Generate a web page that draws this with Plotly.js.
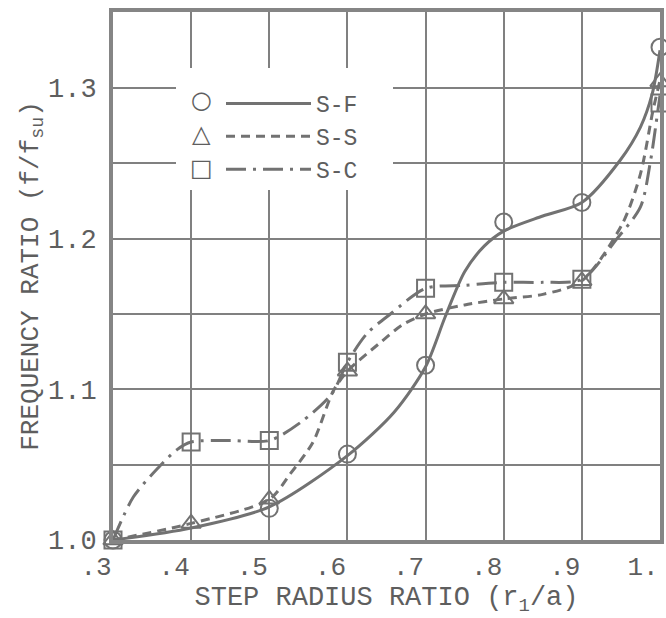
<!DOCTYPE html>
<html>
<head>
<meta charset="utf-8">
<script src="https://cdn.plot.ly/plotly-3.0.1.min.js"></script>
<style>html,body{margin:0;padding:0;background:#fff;}#chart{width:666px;height:618px;}</style>
</head>
<body>
<div id="chart"></div>
<script>
// ---- data ----
const seriesNames = ["S-F", "S-S", "S-C"];

// marker positions
const sfMarkX = [0.3, 0.5, 0.6, 0.7, 0.8, 0.9, 1.0];
const sfMarkY = [1.0, 1.021, 1.057, 1.116, 1.211, 1.224, 1.327];
const ssMarkX = [0.3, 0.4, 0.5, 0.6, 0.7, 0.8, 0.9, 1.0];
const ssMarkY = [1.0, 1.011, 1.027, 1.112, 1.150, 1.160, 1.172, 1.304];
const scMarkX = [0.3, 0.4, 0.5, 0.6, 0.7, 0.8, 0.9, 1.0];
const scMarkY = [1.0, 1.065, 1.066, 1.118, 1.167, 1.171, 1.173, 1.290];

// curves as traced on the picture
const sfCurveX = [0.3, 0.4, 0.5, 0.6, 0.66, 0.7, 0.725, 0.75, 0.775, 0.8, 0.85, 0.9, 0.949, 0.975, 0.99, 1.0];
const sfCurveY = [1.0, 1.008, 1.022, 1.056, 1.085, 1.115, 1.148, 1.178, 1.195, 1.205, 1.215, 1.224, 1.252, 1.274, 1.296, 1.325];
const ssCurveX = [0.3, 0.4, 0.5, 0.527, 0.556, 0.582, 0.6, 0.642, 0.671, 0.7, 0.75, 0.8, 0.85, 0.9, 0.952, 0.975, 0.991, 1.0];
const ssCurveY = [1.0, 1.011, 1.027, 1.044, 1.065, 1.099, 1.112, 1.131, 1.143, 1.150, 1.156, 1.160, 1.163, 1.172, 1.210, 1.243, 1.285, 1.305];
const scCurveX = [0.3, 0.326, 0.358, 0.382, 0.4, 0.45, 0.5, 0.54, 0.58, 0.6, 0.625, 0.655, 0.7, 0.75, 0.8, 0.85, 0.9, 0.945, 0.975, 0.988, 0.997, 1.0];
const scCurveY = [1.0, 1.0285, 1.048, 1.06, 1.065, 1.066, 1.066, 1.078, 1.097, 1.118, 1.137, 1.15, 1.167, 1.169, 1.171, 1.171, 1.173, 1.200, 1.221, 1.252, 1.284, 1.295];

const xTickVals = [0.3, 0.4, 0.5, 0.6, 0.7, 0.8, 0.9, 1.0];
const xTickText = [".3", ".4", ".5", ".6", ".7", ".8", ".9", "1."];
const yTickVals = [1.0, 1.1, 1.2, 1.3];
const yTickText = ["1.0", "1.1", "1.2", "1.3"];
const yMinorVals = [1.05, 1.15, 1.25];
const legendSymbols = ["○", "△", "□"];

// ---- styling ----
const ink = "#727272";
const txt = "#5e5e5e";
const gridc = "#808080";
const mono = "Liberation Mono, Courier New, monospace";

function curve(x, y, name, dash) {
  return {x: x, y: y, name: name, type: "scatter", mode: "lines",
    line: {color: ink, width: 3, shape: "spline", smoothing: 0.8, dash: dash},
    cliponaxis: false, hoverinfo: "skip"};
}
function marks(x, y, sym) {
  return {x: x, y: y, type: "scatter", mode: "markers", showlegend: false,
    marker: {symbol: sym, size: 17, color: ink, line: {color: ink, width: 2}},
    cliponaxis: false};
}

const traces = [
  curve(sfCurveX, sfCurveY, seriesNames[0], "solid"),
  curve(ssCurveX, ssCurveY, seriesNames[1], "9px,6px"),
  curve(scCurveX, scCurveY, seriesNames[2], "20px,7px,3px,7px"),
  marks(sfMarkX, sfMarkY, "circle-open"),
  marks(ssMarkX, ssMarkY, "triangle-up-open"),
  marks(scMarkX, scMarkY, "square-open")
];

const L = 113, R = 6, T = 12, B = 78, W = 666, H = 618;
const pw = W - L - R, ph = H - T - B;
function px2paperX(p) { return (p - L) / pw; }
function px2paperY(p) { return (H - B - p) / ph; }

const symRows = [100, 134, 168];
const annotations = legendSymbols.map((s, i) => ({
  xref: "paper", yref: "paper", x: px2paperX(201), y: px2paperY(symRows[i]),
  text: s, showarrow: false, xanchor: "center", yanchor: "middle",
  font: {family: "DejaVu Sans", size: 24, color: txt}
}));

const layout = {
  width: W, height: H,
  margin: {l: L, r: R, t: T, b: B},
  paper_bgcolor: "#ffffff", plot_bgcolor: "#ffffff",
  font: {family: mono, color: txt},
  showlegend: true,
  legend: {
    x: px2paperX(221), y: px2paperY(82), xanchor: "left", yanchor: "top",
    bgcolor: "rgba(0,0,0,0)", borderwidth: 0, itemwidth: 85,
    font: {family: mono, size: 23, color: txt}, tracegroupgap: 0
  },
  xaxis: {
    range: [0.3, 1.0], tickvals: xTickVals, ticktext: xTickText,
    showgrid: true, gridcolor: gridc, gridwidth: 2,
    showline: true, linecolor: "#858585", linewidth: 4, mirror: true,
    zeroline: false, ticks: "", ticklabelshift: -17, ticklabelstandoff: 0,
    tickfont: {family: mono, size: 26, color: txt},
    title: {text: "STEP RADIUS RATIO (r<sub>1</sub>/a)", font: {family: mono, size: 27, color: txt}, standoff: 0}
  },
  yaxis: {
    range: [1.0, 1.3504], tickvals: yTickVals, ticktext: yTickText,
    showgrid: true, gridcolor: gridc, gridwidth: 2,
    minor: {tickmode: "array", tickvals: yMinorVals, showgrid: true, gridcolor: gridc, gridwidth: 2, ticks: ""},
    showline: true, linecolor: "#858585", linewidth: 4, mirror: true,
    zeroline: false, ticks: "", ticklabelstandoff: 7,
    tickfont: {family: mono, size: 27, color: txt},
    title: {text: "FREQUENCY RATIO (f/f<sub>su</sub>)", font: {family: mono, size: 26, color: txt}, standoff: 0}
  },
  shapes: [{
    type: "rect", xref: "paper", yref: "paper", layer: "above",
    x0: px2paperX(176), x1: px2paperX(393), y0: px2paperY(190), y1: px2paperY(68),
    fillcolor: "#ffffff", line: {width: 0}
  }],
  annotations: annotations
};

Plotly.newPlot("chart", traces, layout, {staticPlot: true, displayModeBar: false});
</script>
</body>
</html>
